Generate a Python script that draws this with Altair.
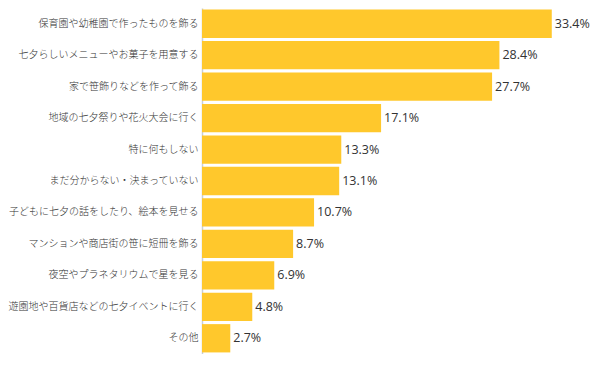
import altair as alt
import pandas as pd

categories = [
    "保育園や幼稚園で作ったものを飾る",
    "七夕らしいメニューやお菓子を用意する",
    "家で笹飾りなどを作って飾る",
    "地域の七夕祭りや花火大会に行く",
    "特に何もしない",
    "まだ分からない・決まっていない",
    "子どもに七夕の話をしたり、絵本を見せる",
    "マンションや商店街の笹に短冊を飾る",
    "夜空やプラネタリウムで星を見る",
    "遊園地や百貨店などの七夕イベントに行く",
    "その他",
]
values = [33.4, 28.4, 27.7, 17.1, 13.3, 13.1, 10.7, 8.7, 6.9, 4.8, 2.7]

df = pd.DataFrame({"item": categories, "value": values})
df["label"] = [f"{v:.1f}%" for v in values]

FONT = "Noto Sans CJK JP"

y_enc = alt.Y(
    "item:N",
    sort=categories,
    title=None,
    scale=alt.Scale(paddingInner=0.1, paddingOuter=0.05),
    axis=alt.Axis(
        ticks=False,
        labelFont=FONT,
        labelFontSize=10,
        labelFontWeight=300,
        labelColor="#333333",
        labelPadding=4,
        labelLimit=300,
        domainColor="#C9CED6",
        domainWidth=1.5,
        minExtent=193,
        maxExtent=193,
    ),
)
x_enc = alt.X(
    "value:Q",
    title=None,
    scale=alt.Scale(domain=[0, 36], nice=False),
    axis=None,
)

bars = alt.Chart(df).mark_bar(color="#FFC82C").encode(x=x_enc, y=y_enc)
text = alt.Chart(df).mark_text(
    align="left", baseline="middle", dx=3, font="Open Sans", fontSize=12.5, color="#333333"
).encode(x=x_enc, y=y_enc, text="label:N")

chart = (
    alt.layer(bars, text)
    .properties(width=377, height=346, padding=0)
    .configure(background="white")
    .configure_view(stroke=None)
)

chart.save("out.html", embed_options={"renderer": "svg", "actions": False})
